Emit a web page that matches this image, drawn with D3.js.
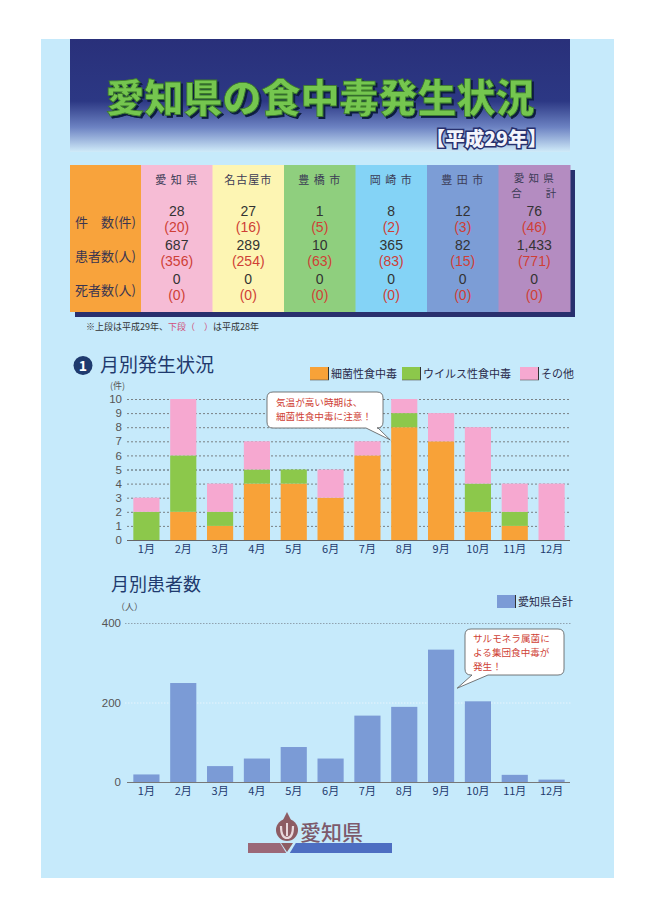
<!DOCTYPE html>
<html><head><meta charset="utf-8">
<script src="https://cdn.jsdelivr.net/npm/d3@7"></script>
<style>body{margin:0;background:#fff}svg{display:block}text{font-family:"Noto Sans CJK JP","Noto Sans",sans-serif}</style>
</head><body>
<script>
// ---------- DATA ----------
const months = ["1月","2月","3月","4月","5月","6月","7月","8月","9月","10月","11月","12月"];
const bacterial = [0,2,1,4,4,3,6,8,7,2,1,0];
const viral     = [2,4,1,1,1,0,0,1,0,2,1,0];
const other     = [1,4,2,2,0,2,1,1,2,4,2,4];
const seriesNames = ["細菌性食中毒","ウイルス性食中毒","その他"];
const countTicks = [0,1,2,3,4,5,6,7,8,9,10];
const patients = [19,249,40,59,88,59,167,189,333,203,18,6];
const patientTicks = [0,200,400];
const regions = [["愛 知 県"],["名古屋市"],["豊 橋 市"],["岡 崎 市"],["豊 田 市"],["愛 知 県","合　　計"]];
const rowLabels = ["件　数(件)","患者数(人)","死者数(人)"];
const cases29 = ["28","27","1","8","12","76"];
const cases28 = ["(20)","(16)","(5)","(2)","(3)","(46)"];
const patients29 = ["687","289","10","365","82","1,433"];
const patients28 = ["(356)","(254)","(63)","(83)","(15)","(771)"];
const deaths29 = ["0","0","0","0","0","0"];
const deaths28 = ["(0)","(0)","(0)","(0)","(0)","(0)"];

// ---------- STYLE ----------
const colBg = ["#f6bcd5","#fdf5b3","#8fcf7e","#84d3f6","#7c9dd6","#b48cc1"];
const seriesColors = ["#f8a238","#8cc84b","#f6a8d0"];
const navy = "#1f3a6e";
const red = "#cf3f36";
const numFont = "'Liberation Sans',Arial,sans-serif";

const svg = d3.select("body").append("svg").attr("width",650).attr("height",919);
svg.append("rect").attr("width",650).attr("height",919).attr("fill","#fff");
svg.append("rect").attr("x",41).attr("y",39).attr("width",573).attr("height",839).attr("fill","#c6eafb");

// title band
const defs = svg.append("defs");
const g1 = defs.append("linearGradient").attr("id","band").attr("x1",0).attr("x2",0).attr("y1",0).attr("y2",1);
[[0,"#29307a"],[0.55,"#2c3884"],[0.78,"#6c82c2"],[1,"#d0ebf9"]].forEach(s=>g1.append("stop").attr("offset",s[0]).attr("stop-color",s[1]));
const f = defs.append("filter").attr("id","ds").attr("x","-10%").attr("y","-20%").attr("width","130%").attr("height","150%");
f.append("feDropShadow").attr("dx",2).attr("dy",2).attr("stdDeviation",0.6).attr("flood-color","#101a40").attr("flood-opacity",1);
svg.append("rect").attr("x",70).attr("y",39).attr("width",500).attr("height",113).attr("fill","url(#band)");
svg.append("text").attr("x",320).attr("y",112).attr("text-anchor","middle").attr("font-size",39).attr("font-weight",900)
  .attr("fill","#74c64f").attr("stroke","#3d7a2a").attr("stroke-width",0.8).attr("filter","url(#ds)").text("愛知県の食中毒発生状況");
svg.append("text").attr("x",547).attr("y",146).attr("text-anchor","end").attr("font-size",19.5).attr("font-weight",900)
  .attr("fill","#f2f4fb").attr("stroke","#27306e").attr("stroke-width",3).attr("paint-order","stroke").text("【平成29年】");

// ---------- TABLE ----------
const tx = d3.scaleBand().domain(d3.range(6)).range([141,570]);
const tTop = 165, tBot = 312;
svg.append("rect").attr("x",75).attr("y",tTop+5).attr("width",500).attr("height",tBot-tTop).attr("fill","#28306e");
svg.append("rect").attr("x",70).attr("y",tTop).attr("width",71).attr("height",tBot-tTop).attr("fill","#f8a33c");
svg.selectAll(".col").data(colBg).join("rect").attr("x",(d,i)=>tx(i)).attr("y",tTop)
  .attr("width",tx.bandwidth()+0.5).attr("height",tBot-tTop).attr("fill",d=>d);
regions.forEach((r,i)=>{
  const t = svg.append("text").attr("x",tx(i)+tx.bandwidth()/2).attr("y",r.length>1?182:184)
    .attr("text-anchor","middle").attr("font-size",r.length>1?10.5:11).attr("fill","#3b3b55").attr("letter-spacing",1);
  r.forEach((line,j)=>t.append("tspan").attr("x",tx(i)+tx.bandwidth()/2).attr("dy",j?15.3:0).text(line));
});
const rowsY = [216,250,284];
const rowData = [[cases29,cases28],[patients29,patients28],[deaths29,deaths28]];
rowLabels.forEach((l,k)=>{
  svg.append("text").attr("x",75).attr("y",rowsY[k]+11).attr("font-size",13).attr("fill","#3a3550").text(l);
  rowData[k][0].forEach((v,i)=>{
    const cx = tx(i)+tx.bandwidth()/2;
    const t = svg.append("text").attr("x",cx).attr("y",rowsY[k]).attr("text-anchor","middle").attr("font-size",14)
      .style("font-family",numFont);
    t.append("tspan").attr("x",cx).attr("fill","#333").text(v);
    t.append("tspan").attr("x",cx).attr("dy",15.6).attr("fill",red).text(rowData[k][1][i]);
  });
});
const fn = svg.append("text").attr("x",86).attr("y",330).attr("font-size",9).attr("fill","#333");
fn.append("tspan").text("※上段は平成29年、");
fn.append("tspan").attr("fill","#d0507a").text("下段（　）");
fn.append("tspan").text("は平成28年");

// ---------- CHART 1 ----------
svg.append("circle").attr("cx",83).attr("cy",365.5).attr("r",9.5).attr("fill",navy);
svg.append("text").attr("x",83).attr("y",371).attr("text-anchor","middle").attr("font-size",14).attr("font-weight",700).attr("fill","#fff").text("1");
svg.append("text").attr("x",100).attr("y",372).attr("font-size",19).attr("fill",navy).text("月別発生状況");

function legendItem(x,y,color,label){
  svg.append("rect").attr("x",x).attr("y",y).attr("width",18).attr("height",13).attr("fill",color);
  svg.append("line").attr("x1",x+18.5).attr("x2",x+18.5).attr("y1",y).attr("y2",y+13).attr("stroke","#333").attr("stroke-width",1);
  svg.append("line").attr("x1",x).attr("x2",x+19).attr("y1",y+13).attr("y2",y+13).attr("stroke","#555").attr("stroke-width",0.6);
  svg.append("text").attr("x",x+21).attr("y",y+11).attr("font-size",11).attr("fill","#2a2a4a").text(label);
}
legendItem(310,367,seriesColors[0],seriesNames[0]);
legendItem(402,367,seriesColors[1],seriesNames[1]);
legendItem(520,367,seriesColors[2],seriesNames[2]);

const x = d3.scaleBand().domain(months).range([128,570]).paddingInner(0.29).paddingOuter(0.145);
const y1 = d3.scaleLinear().domain([0,10]).range([540,399]);
svg.append("text").attr("x",110).attr("y",388.5).attr("font-size",9).attr("fill","#555").text("(件)");
const grid1 = svg.append("g");
grid1.selectAll("line").data(countTicks.filter(d=>d>0)).join("line")
  .attr("x1",127).attr("x2",570).attr("y1",d=>y1(d)+0.5).attr("y2",d=>y1(d)+0.5)
  .attr("stroke",d=>d===5?"#333":"#666").attr("stroke-width",0.8).attr("stroke-dasharray","2,2");
const ax1 = svg.append("g").attr("transform","translate(124,0)")
  .call(d3.axisLeft(y1).tickValues(countTicks).tickSize(0).tickPadding(2));
ax1.select(".domain").remove();
ax1.selectAll("text").attr("font-size",11.5).attr("fill","#555").style("font-family",numFont);

const stackData = months.map((m,i)=>({month:m,b:bacterial[i],v:viral[i],o:other[i]}));
const stack = d3.stack().keys(["b","v","o"])(stackData);
svg.append("g").selectAll("g").data(stack).join("g").attr("fill",(d,i)=>seriesColors[i])
  .selectAll("rect").data(d=>d).join("rect")
  .attr("x",d=>x(d.data.month)).attr("width",x.bandwidth())
  .attr("y",d=>y1(d[1])).attr("height",d=>y1(d[0])-y1(d[1]));
svg.append("line").attr("x1",127).attr("x2",570).attr("y1",540.5).attr("y2",540.5).attr("stroke","#666").attr("stroke-width",1);
const bx1 = svg.append("g").attr("transform","translate(0,541)").call(d3.axisBottom(x).tickSize(0).tickPadding(4));
bx1.select(".domain").remove();
bx1.selectAll("text").attr("font-size",11).attr("fill",navy);

function callout(bx,by,bw,bh,tailA,tailB,tip,lines,lx,ly){
  const r=6;
  const p = d3.path();
  p.moveTo(bx+r,by); p.lineTo(bx+bw-r,by); p.quadraticCurveTo(bx+bw,by,bx+bw,by+r);
  p.lineTo(bx+bw,by+bh-r); p.quadraticCurveTo(bx+bw,by+bh,bx+bw-r,by+bh);
  const pts=[tailA,tailB].sort((a,b)=>b-a);
  p.lineTo(pts[0],by+bh); p.lineTo(tip[0],tip[1]); p.lineTo(pts[1],by+bh);
  p.lineTo(bx+r,by+bh); p.quadraticCurveTo(bx,by+bh,bx,by+bh-r);
  p.lineTo(bx,by+r); p.quadraticCurveTo(bx,by,bx+r,by); p.closePath();
  svg.append("path").attr("d",p.toString()).attr("fill","#fff").attr("stroke","#555").attr("stroke-width",0.8);
  const t = svg.append("text").attr("x",lx).attr("y",ly).attr("font-size",9.6).attr("fill",red);
  lines.forEach((s,i)=>t.append("tspan").attr("x",lx).attr("dy",i?14:0).text(s));
}
callout(267,392,116,36,366,378,[x("8月")-1,y1(7.1)],["気温が高い時期は、","細菌性食中毒に注意！"],276,406);

// ---------- CHART 2 ----------
svg.append("text").attr("x",111).attr("y",591).attr("font-size",18).attr("fill",navy).text("月別患者数");
svg.append("rect").attr("x",497).attr("y",595).attr("width",18).attr("height",13).attr("fill","#7b9bd6");
svg.append("line").attr("x1",515.5).attr("x2",515.5).attr("y1",595).attr("y2",608).attr("stroke","#333");
svg.append("text").attr("x",518).attr("y",606).attr("font-size",11).attr("fill","#2a2a4a").text("愛知県合計");
svg.append("text").attr("x",116).attr("y",610).attr("font-size",9).attr("fill","#555").text("（人）");

const y2 = d3.scaleLinear().domain([0,400]).range([782,623]);
svg.append("g").selectAll("line").data(patientTicks.filter(d=>d>0)).join("line")
  .attr("x1",125).attr("x2",572).attr("y1",d=>y2(d)+0.5).attr("y2",d=>y2(d)+0.5)
  .attr("stroke",d=>d===400?"#8a9aa6":"#eaf6fd").attr("stroke-width",0.9).attr("stroke-dasharray","1.5,1.5");
const ax2 = svg.append("g").attr("transform","translate(121,0)").call(d3.axisLeft(y2).tickValues(patientTicks).tickSize(0).tickPadding(0));
ax2.select(".domain").remove();
ax2.selectAll("text").attr("font-size",11.5).attr("fill","#555").style("font-family",numFont);
svg.append("g").selectAll("rect").data(patients).join("rect")
  .attr("x",(d,i)=>x(months[i])).attr("width",x.bandwidth())
  .attr("y",d=>y2(d)).attr("height",d=>y2(0)-y2(d)).attr("fill","#7b9bd6");
svg.append("line").attr("x1",127).attr("x2",570).attr("y1",782.5).attr("y2",782.5).attr("stroke","#777").attr("stroke-width",1);
const bx2 = svg.append("g").attr("transform","translate(0,783)").call(d3.axisBottom(x).tickSize(0).tickPadding(4));
bx2.select(".domain").remove();
bx2.selectAll("text").attr("font-size",11).attr("fill",navy);
callout(465,629,99,46,472,488,[x("9月")+x.bandwidth()+3,y2(236)],["サルモネラ属菌に","よる集団食中毒が","発生！"],473,642);

// ---------- LOGO ----------
svg.append("rect").attr("x",248).attr("y",843).attr("width",40).attr("height",10).attr("fill","#9b6877");
svg.append("rect").attr("x",288).attr("y",843).attr("width",104).attr("height",10).attr("fill","#4d6ec2");
svg.append("path").attr("d","M276,836 L300,836 L288,856 Z").attr("fill","#c6eafb");
svg.append("circle").attr("cx",287).attr("cy",830).attr("r",11).attr("fill","#8d5c63");
svg.append("path").attr("d","M287,812 L291,820 L283,820 Z").attr("fill","#8d5c63");
svg.append("path").attr("d","M281,826 Q281,838 287,838 Q293,838 293,826").attr("fill","none").attr("stroke","#e8d8dc").attr("stroke-width",2.2);
svg.append("path").attr("d","M287,823 L287,836").attr("stroke","#e8d8dc").attr("stroke-width",2);
svg.append("path").attr("d","M281,843 L293,843 L287,852 Z").attr("fill","#8d5c63");
svg.append("text").attr("x",300).attr("y",840).attr("font-size",21).attr("font-weight",500).attr("fill","#7d5a6b").text("愛知県");
</script>
</body></html>
